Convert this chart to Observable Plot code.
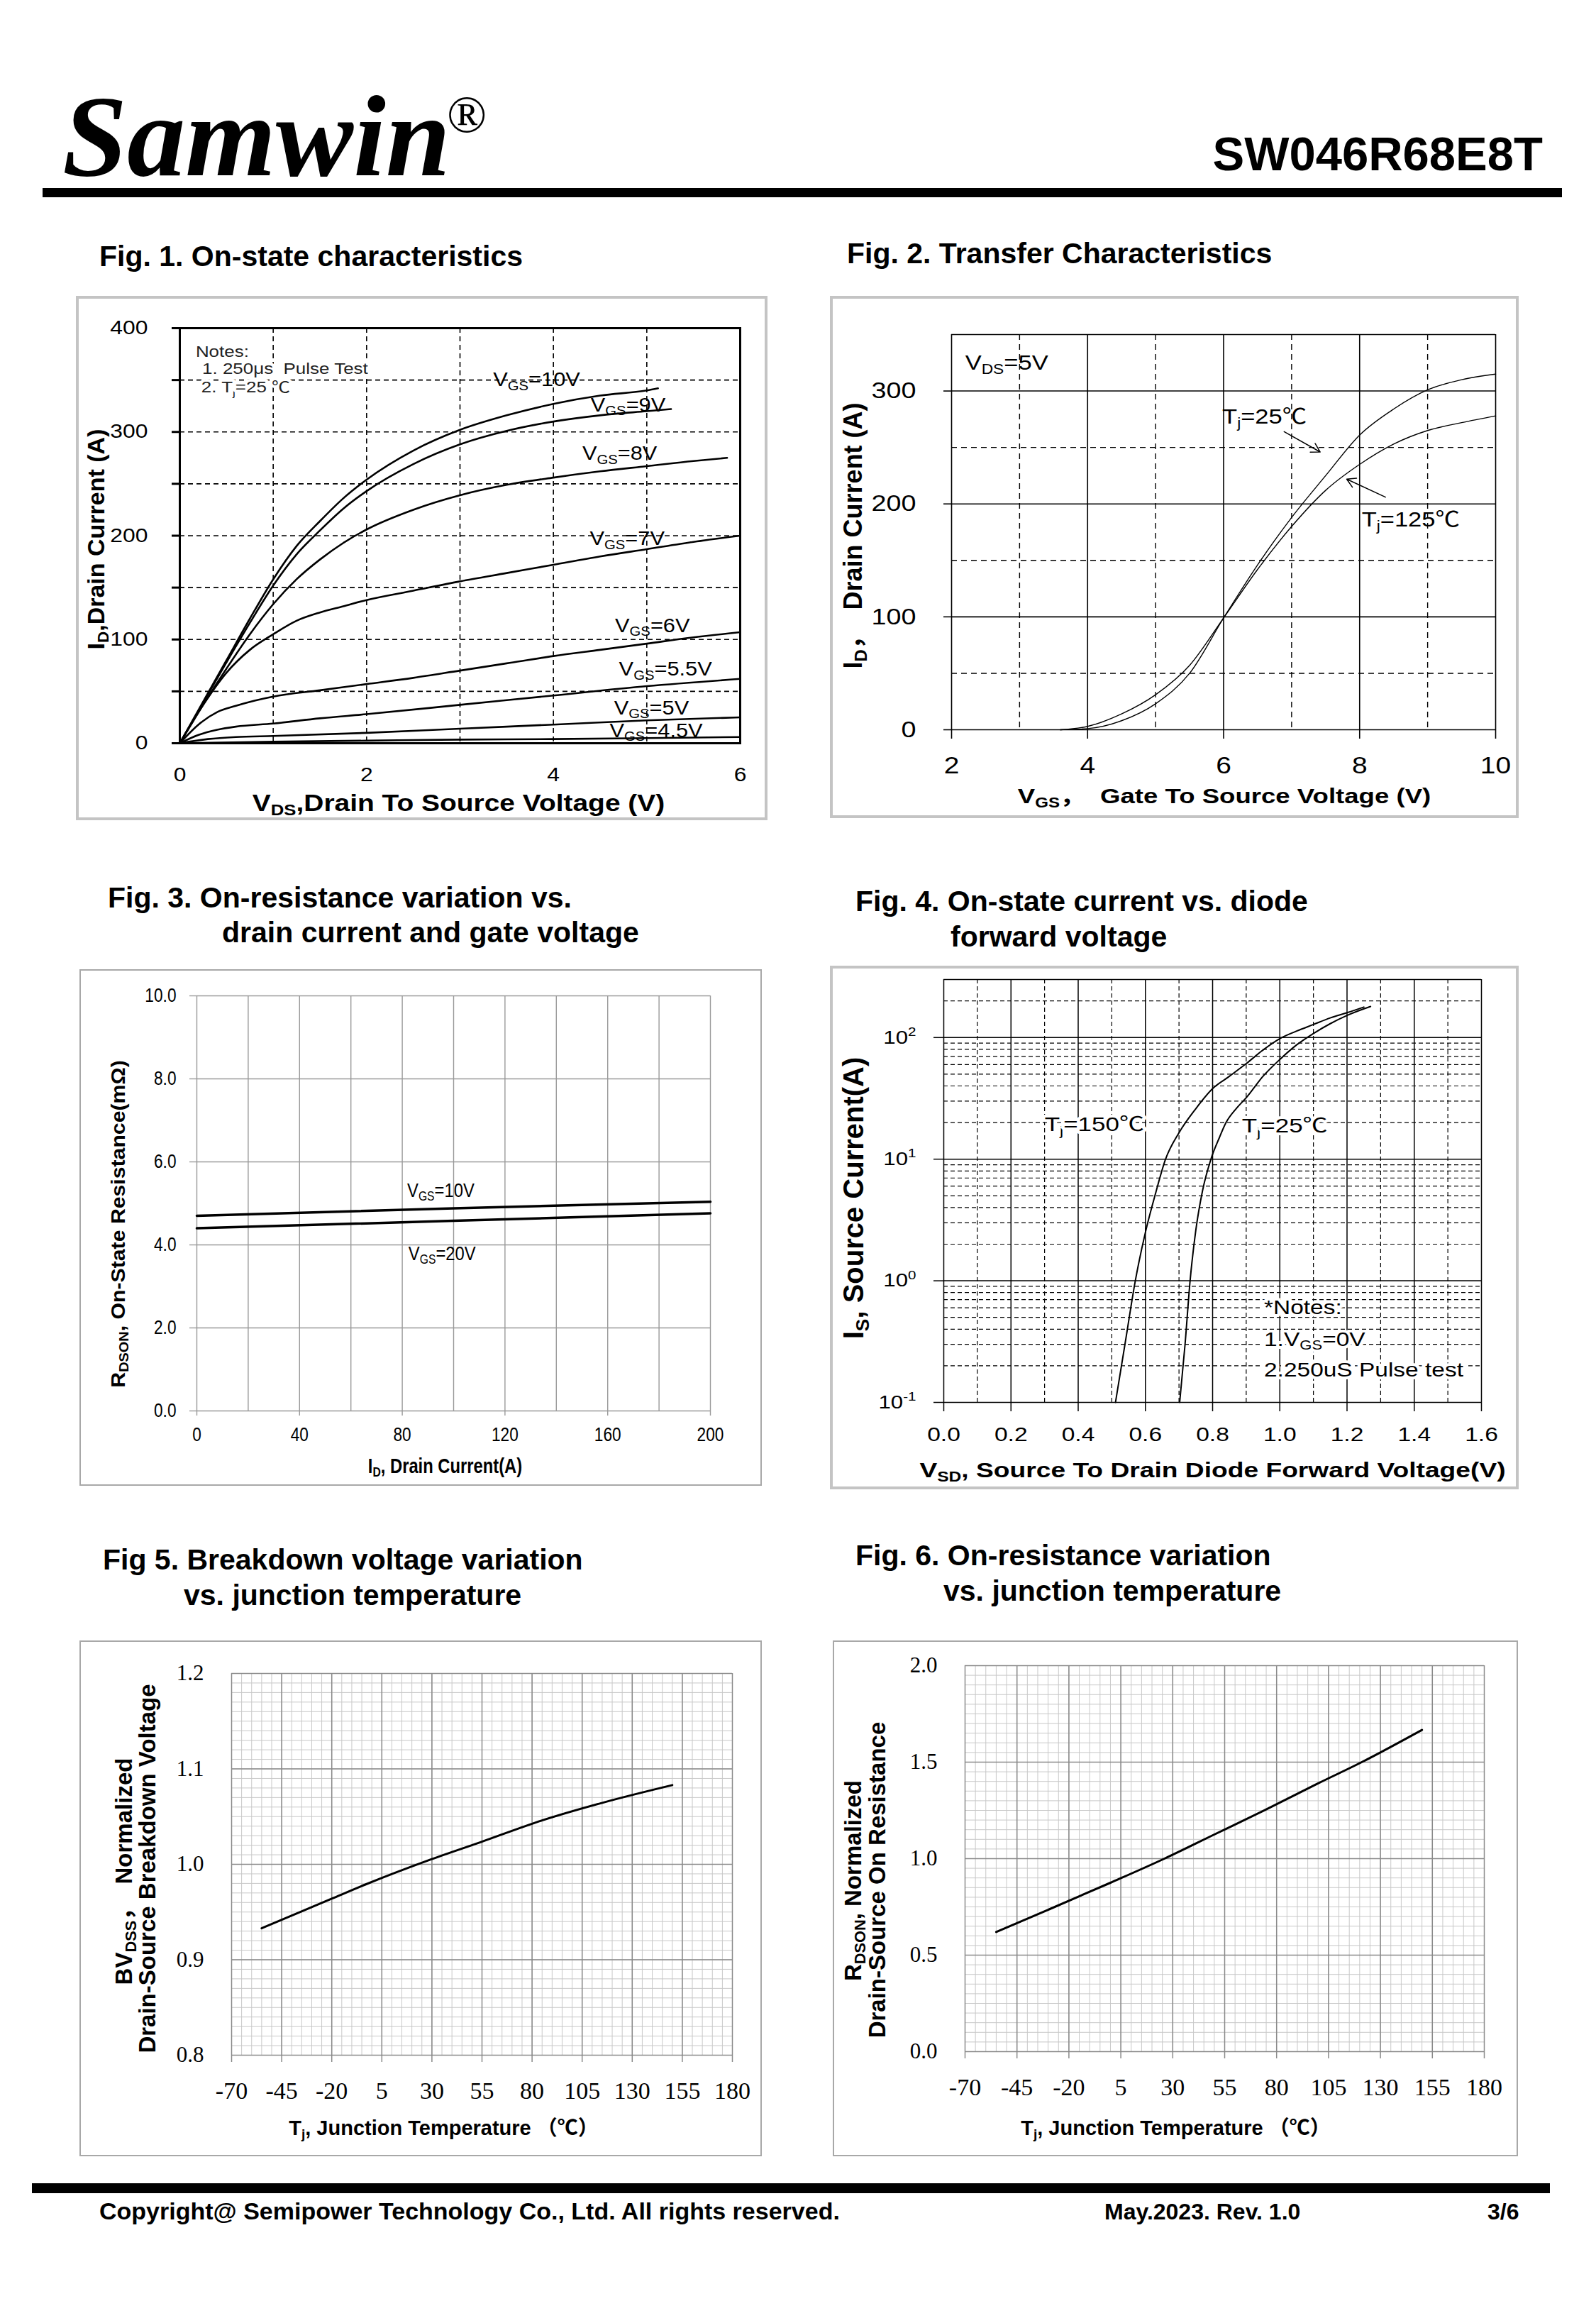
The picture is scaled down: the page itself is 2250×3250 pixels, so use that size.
<!DOCTYPE html>
<html><head><meta charset="utf-8">
<script src="https://cdn.jsdelivr.net/npm/d3@7"></script>
<script src="https://cdn.jsdelivr.net/npm/@observablehq/plot@0.6"></script>
<style>
html,body{margin:0;padding:0;background:#fff;}
#page{position:relative;width:2250px;height:3250px;background:#fff;overflow:hidden;}
</style></head><body><div id="page"></div>
<script>
// ================= DATA =================
// Page texts
const brandText = "Samwin";
const regMark = "®";
const partNumber = "SW046R68E8T";
const figTitles = [
  ["Fig. 1. On-state characteristics"],
  ["Fig. 2. Transfer Characteristics"],
  ["Fig. 3. On-resistance variation vs.", "drain current and gate voltage"],
  ["Fig. 4. On-state current vs. diode", "forward voltage"],
  ["Fig 5. Breakdown voltage variation", "vs. junction temperature"],
  ["Fig. 6. On-resistance variation", "vs. junction temperature"]
];
const footerTexts = ["Copyright@ Semipower Technology Co., Ltd. All rights reserved.", "May.2023. Rev. 1.0", "3/6"];

// Fig. 1 — I_D (A) vs V_DS (V), one series per V_GS
const fig1_10V  = [[0,0],[0.25,40],[0.5,80],[0.75,120],[1,158],[1.25,190],[1.5,214],[1.75,236],[2,254],[2.5,282],[3,302],[3.5,316],[4,327],[4.5,335],[5,340],[5.12,342]];
const fig1_9V   = [[0,0],[0.25,39],[0.5,78],[0.75,116],[1,152],[1.25,182],[1.5,205],[1.75,226],[2,243],[2.5,269],[3,288],[3.5,301],[4,310],[4.5,316],[5,320],[5.26,322]];
const fig1_8V   = [[0,0],[0.25,37],[0.5,72],[0.75,105],[1,134],[1.25,158],[1.5,177],[1.75,193],[2,206],[2.5,225],[3,239],[3.5,249],[4,256],[4.5,262],[5,267],[5.5,272],[5.86,275]];
const fig1_7V   = [[0,0],[0.25,37],[0.5,68],[0.75,90],[1,105],[1.25,118],[1.5,126],[1.75,132],[2,138],[2.5,147],[3,156],[3.5,164],[4,172],[4.5,180],[5,187],[5.5,194],[6,200]];
const fig1_6V   = [[0,0],[0.2,18],[0.4,30],[0.6,36],[0.8,41],[1,45],[1.5,51],[2,57],[2.5,63],[3,70],[3.5,77],[4,84],[4.5,90],[5,96],[5.5,102],[6,107]];
const fig1_5_5V = [[0,0],[0.2,8],[0.4,13],[0.6,16],[1,19],[1.5,24],[2,28],[3,37],[4,46],[5,55],[6,62]];
const fig1_5V   = [[0,0],[0.3,4],[0.6,6],[1,7],[2,10],[3,14],[4,18],[5,22],[6,25]];
const fig1_4_5V = [[0,0],[1,1.5],[2,2.5],[3,3.5],[4,4],[5,5],[6,6]];
const fig1Labels = [
  {t:"V_{GS}=10V", x:3.82, y:344}, {t:"V_{GS}=9V", x:4.8, y:320}, {t:"V_{GS}=8V", x:4.71, y:273},
  {t:"V_{GS}=7V", x:4.79, y:191}, {t:"V_{GS}=6V", x:5.06, y:107}, {t:"V_{GS}=5.5V", x:5.2, y:65},
  {t:"V_{GS}=5V", x:5.05, y:28}, {t:"V_{GS}=4.5V", x:5.1, y:6}
];
const fig1Notes = [{t:"Notes:", x:0.17, y:372}, {t:"1. 250μs  Pulse Test", x:0.24, y:356}, {t:"2. T_{j}=25 ℃", x:0.23, y:338}];
const fig1XTicks = [0, 2, 4, 6];
const fig1YTicks = [0, 50, 100, 150, 200, 250, 300, 350, 400];
const fig1GridX = [1, 2, 3, 4, 5];
const fig1GridY = [50, 100, 150, 200, 250, 300, 350];
const fig1XTitle = "V_{DS},Drain To Source Voltage (V)";
const fig1YTitle = "I_{D},Drain Current (A)";

// Fig. 2 — transfer characteristics, I_D (A) vs V_GS (V)
const fig2_25C  = [[3.6,0],[4,1],[4.5,8],[5,23],[5.5,50],[6,99],[6.5,146],[7,188],[7.5,225],[8,261],[8.5,284],[9,301],[9.5,310],[10,315]];
const fig2_125C = [[3.6,0],[4,3],[4.5,14],[5,31],[5.5,57],[6,99],[6.5,142],[7,180],[7.5,212],[8,235],[8.5,253],[9,265],[9.5,272],[10,278]];
const fig2Labels = [{t:"V_{DS}=5V", x:2.2, y:319}, {t:"T_{j}=25℃", x:5.98, y:271}, {t:"T_{j}=125℃", x:8.03, y:180}];
const fig2Arrows = [{x1:6.89, y1:264, x2:7.42, y2:246}, {x1:8.38, y1:206, x2:7.81, y2:222}];
const fig2XTicks = [2, 4, 6, 8, 10];
const fig2YTicks = [0, 100, 200, 300];
const fig2GridX = [2, 4, 6, 8, 10];
const fig2GridXDash = [3, 5, 7, 9];
const fig2GridY = [0, 100, 200, 300, 350];
const fig2GridYDash = [50, 150, 250];
const fig2XTitle = "V_{GS}，  Gate To Source Voltage (V)";
const fig2YTitle = "I_{D}，  Drain Current (A)";

// Fig. 3 — R_DSON (mΩ) vs I_D (A)
const fig3_10V = [[0,4.70],[50,4.79],[100,4.88],[150,4.96],[200,5.04]];
const fig3_20V = [[0,4.40],[50,4.49],[100,4.58],[150,4.67],[200,4.76]];
const fig3Labels = [{t:"V_{GS}=10V", x:95, y:5.16}, {t:"V_{GS}=20V", x:95.5, y:3.64}];
const fig3XTicks = [0, 40, 80, 120, 160, 200];
const fig3YTicks = [0, 2, 4, 6, 8, 10];
const fig3GridX = [0, 20, 40, 60, 80, 100, 120, 140, 160, 180, 200];
const fig3GridY = [0, 2, 4, 6, 8, 10];
const fig3XTitle = "I_{D}, Drain Current(A)";
const fig3YTitle = "R_{DSON}, On-State Resistance(mΩ)";

// Fig. 4 — I_S (A, log) vs V_SD (V)
const fig4_150C = [[0.511,0.1],[0.54,0.31],[0.57,1.0],[0.60,2.5],[0.63,5.2],[0.66,10],[0.70,16.5],[0.75,26],[0.80,38],[0.85,48],[0.90,61],[0.95,79],[1.0,98],[1.05,113],[1.10,128],[1.15,145],[1.20,160],[1.25,178]];
const fig4_25C  = [[0.702,0.1],[0.718,0.3],[0.733,1.0],[0.75,2.6],[0.77,5.5],[0.795,10],[0.82,15],[0.84,20],[0.87,26],[0.90,32],[0.95,48],[1.0,66],[1.05,87],[1.10,108],[1.15,130],[1.20,152],[1.27,180]];
const fig4Labels = [{t:"T_{j}=150℃", x:0.30, y:17}, {t:"T_{j}=25℃", x:0.887, y:16.6}];
const fig4Notes = [{t:"*Notes:", x:0.953, y:0.533}, {t:"1.V_{GS}=0V", x:0.953, y:0.292}, {t:"2.250uS Pulse test", x:0.953, y:0.164}];
const fig4XTicks = [0, 0.2, 0.4, 0.6, 0.8, 1.0, 1.2, 1.4, 1.6];
const fig4YTicks = [0.1, 1, 10, 100];
const fig4GridX = [0, 0.2, 0.4, 0.6, 0.8, 1.0, 1.2, 1.4, 1.6];
const fig4GridXDash = [0.1, 0.3, 0.5, 0.7, 0.9, 1.1, 1.3, 1.5];
const fig4GridY = [0.1, 1, 10, 100, 300];
const fig4GridYDash = [0.2,0.3,0.4,0.5,0.6,0.7,0.8,0.9, 2,3,4,5,6,7,8,9, 20,30,40,50,60,70,80,90, 200];
const fig4XTitle = "V_{SD}, Source To Drain Diode Forward Voltage(V)";
const fig4YTitle = "I_{S}, Source Current(A)";

// Fig. 5 — normalized BV_DSS vs T_j (°C)
const fig5Curve = [[-55,0.933],[-38,0.948],[-20,0.964],[-3,0.979],[28,1.004],[54,1.023],[85,1.046],[116,1.065],[150,1.083]];
const fig5XTicks = [-70, -45, -20, 5, 30, 55, 80, 105, 130, 155, 180];
const fig5YTicks = [0.8, 0.9, 1.0, 1.1, 1.2];
const fig5YTitle = ["BV_{DSS}，\u00a0\u00a0Normalized", "Drain-Source Breakdown Voltage"];

// Fig. 6 — normalized R_DSON vs T_j (°C)
const fig6Curve = [[-55,0.62],[-30,0.735],[0,0.875],[26,1.0],[50,1.125],[75,1.255],[100,1.39],[121,1.5],[150,1.667]];
const fig6XTicks = [-70, -45, -20, 5, 30, 55, 80, 105, 130, 155, 180];
const fig6YTicks = [0, 0.5, 1.0, 1.5, 2.0];
const fig6YTitle = ["R_{DSON}, Normalized", "Drain-Source On Resistance"];
const tempXTitle = "T_{j}, Junction Temperature （℃）";

// ================= HELPERS =================
const SANS = "'Liberation Sans', Arial, Helvetica, 'Noto Sans CJK SC', sans-serif";
const SERIF = "'Liberation Serif', 'Times New Roman', 'Noto Sans CJK SC', serif";
const NS = "http://www.w3.org/2000/svg";
const page = document.getElementById("page");
const baseStyle = (fs) => ({fontFamily: SANS, fontSize: fs + "px", color: "#000", background: "transparent", overflow: "visible"});
const rows = (series) => series.flatMap(([s, pts]) => pts.map(([x, y]) => ({s, x, y})));

function addBox(x, y, w, h, bw, color) {
  const d = document.createElement("div");
  Object.assign(d.style, {position: "absolute", left: x + "px", top: y + "px", width: w + "px", height: h + "px", boxSizing: "border-box", border: `${bw}px solid ${color}`});
  page.appendChild(d);
}
function rich(el) {
  const s = el.textContent;
  if (!/[_^]\{/.test(s)) return;
  const fs = parseFloat(getComputedStyle(el).fontSize) || 16;
  while (el.firstChild) el.removeChild(el.firstChild);
  const re = /([_^])\{([^}]*)\}/g;
  const parts = []; let last = 0, m;
  while ((m = re.exec(s))) {
    if (m.index > last) parts.push([s.slice(last, m.index), 0]);
    parts.push([m[2], m[1] === "_" ? 1 : -1]);
    last = re.lastIndex;
  }
  if (last < s.length) parts.push([s.slice(last), 0]);
  let cur = 0;
  for (const [t, mode] of parts) {
    const ts = document.createElementNS(NS, "tspan");
    const target = mode > 0 ? 0.2 * fs : mode < 0 ? -0.42 * fs : 0;
    if (target !== cur) ts.setAttribute("dy", (target - cur).toFixed(2));
    cur = target;
    if (mode) ts.setAttribute("font-size", (0.66 * fs).toFixed(2));
    ts.textContent = t;
    el.appendChild(ts);
  }
}
function stretch(t, k) {
  const tr = t.getAttribute("transform") || "";
  const x = parseFloat(t.getAttribute("x")) || 0;
  t.setAttribute("transform", `${tr} translate(${x},0) scale(${k},1) translate(${-x},0)`);
}
function finish(svg, cfg) {
  svg.querySelectorAll("text").forEach(t => {
    const spans = t.querySelectorAll("tspan");
    (spans.length ? [...spans] : [t]).forEach(rich);
  });
  if (cfg.xt) svg.querySelectorAll('g[aria-label="x-axis tick label"] text').forEach(t => stretch(t, cfg.xt));
  if (cfg.yt) svg.querySelectorAll('g[aria-label="y-axis tick label"] text').forEach(t => stretch(t, cfg.yt));
  svg.querySelectorAll("g[aria-description]").forEach(g => {
    const m = /^k=([\d.]+)$/.exec(g.getAttribute("aria-description"));
    if (m) g.querySelectorAll("text").forEach(t => stretch(t, +m[1]));
  });
}
function mount(svg, x, y, cfg = {}) {
  Object.assign(svg.style, {position: "absolute", left: x + "px", top: y + "px", maxWidth: "none"});
  page.appendChild(svg);
  finish(svg, cfg);
}
const ident = d => d;

// ================= PAGE FURNITURE =================
const over = document.createElementNS(NS, "svg");
over.setAttribute("width", 2250); over.setAttribute("height", 3250);
over.style.position = "absolute"; over.style.left = "0px"; over.style.top = "0px";
function otext(x, y, s, attrs) {
  const t = document.createElementNS(NS, "text");
  t.setAttribute("x", x); t.setAttribute("y", y);
  for (const [k, v] of Object.entries(attrs)) t.setAttribute(k, v);
  t.textContent = s; over.appendChild(t); return t;
}
function orect(x, y, w, h) {
  const r = document.createElementNS(NS, "rect");
  r.setAttribute("x", x); r.setAttribute("y", y); r.setAttribute("width", w); r.setAttribute("height", h); r.setAttribute("fill", "#000");
  over.appendChild(r);
}
otext(88, 247, brandText, {"font-family": SERIF, "font-style": "italic", "font-weight": "bold", "font-size": 164});
otext(630, 186, regMark, {"font-family": SERIF, "font-size": 74});
otext(2175, 240, partNumber, {"font-family": SANS, "font-weight": "bold", "font-size": 67, "text-anchor": "end"});
orect(60, 265, 2142, 13);
const titlePos = [[[140,375]], [[1194,371]], [[152,1279],[313,1328]], [[1206,1284],[1340,1334]], [[145,2212],[259,2262]], [[1206,2206],[1330,2256]]];
figTitles.forEach((lines, i) => lines.forEach((s, j) => otext(titlePos[i][j][0], titlePos[i][j][1], s, {"font-family": SANS, "font-weight": "bold", "font-size": 41})));
orect(45, 3077, 2140, 14);
otext(140, 3128, footerTexts[0], {"font-family": SANS, "font-weight": "bold", "font-size": 34});
otext(1557, 3128, footerTexts[1], {"font-family": SANS, "font-weight": "bold", "font-size": 32});
otext(2097, 3128, footerTexts[2], {"font-family": SANS, "font-weight": "bold", "font-size": 32});

// rotated / bottom axis title options
const yTitleOpts = (dx, dy, fs, extra = {}) => ({text: ident, frameAnchor: "left", textAnchor: "middle", rotate: -90, dx, dy, lineAnchor: "bottom", fontSize: fs, fontWeight: "bold", ...extra});
const xTitleOpts = (dx, dy, fs, extra = {}) => ({text: ident, frameAnchor: "bottom", textAnchor: "middle", dx, dy, lineAnchor: "bottom", fontSize: fs, fontWeight: "bold", ...extra});

// ================= FIG 1 =================
addBox(107, 417, 975, 739, 4, "#c4c4c4");
const dash1 = {stroke: "#000", strokeOpacity: 1, strokeWidth: 1.6, strokeDasharray: "7,5"};
const fig1 = Plot.plot({
  width: 975, height: 739, marginLeft: 146, marginRight: 39, marginTop: 45, marginBottom: 109,
  style: baseStyle(26),
  x: {domain: [0, 6], axis: null, label: null},
  y: {domain: [0, 400], axis: null, label: null},
  marks: [
    Plot.gridX(fig1GridX, dash1),
    Plot.gridY(fig1GridY, dash1),
    Plot.text(fig1Notes, {x: "x", y: "y", text: "t", textAnchor: "start", lineAnchor: "bottom", fontSize: 22, fill: "#222", stroke: "#fff", strokeWidth: 8, paintOrder: "stroke", ariaDescription: "k=1.18"}),
    Plot.line(rows([["10",fig1_10V],["9",fig1_9V],["8",fig1_8V],["7",fig1_7V],["6",fig1_6V],["5.5",fig1_5_5V],["5",fig1_5V],["4.5",fig1_4_5V]]), {x: "x", y: "y", z: "s", stroke: "#000", strokeWidth: 2.6, curve: "monotone-x"}),
    Plot.frame({stroke: "#000", strokeWidth: 3}),
    Plot.axisY(fig1YTicks, {tickSize: 11, tickPadding: 34, strokeWidth: 3, fontSize: 27, label: null, tickFormat: d => d % 100 ? "" : String(d)}),
    Plot.axisX(fig1XTicks, {tickSize: 0, tickPadding: 34, fontSize: 27, label: null, tickFormat: d => String(d)}),
    Plot.text(fig1Labels, {x: "x", y: "y", text: "t", textAnchor: "middle", lineAnchor: "bottom", fontSize: 27, ariaDescription: "k=1.14"}),
    Plot.text([fig1XTitle], xTitleOpts(-2, 95, 33, {ariaDescription: "k=1.18"})),
    Plot.text([fig1YTitle], yTitleOpts(-107, 5, 34))
  ]
});
mount(fig1, 107, 417, {xt: 1.18, yt: 1.18});

// ================= FIG 2 =================
addBox(1170, 417, 971, 736, 4, "#c4c4c4");
const solid2 = {stroke: "#000", strokeOpacity: 1, strokeWidth: 1.6};
const dash2 = {stroke: "#000", strokeOpacity: 1, strokeWidth: 1.4, strokeDasharray: "8,6"};
const fig2 = Plot.plot({
  width: 971, height: 736, marginLeft: 171, marginRight: 33, marginTop: 54, marginBottom: 125,
  style: baseStyle(32),
  x: {domain: [2, 10], axis: null, label: null},
  y: {domain: [0, 350], axis: null, label: null},
  marks: [
    Plot.gridX(fig2GridXDash, dash2),
    Plot.gridY(fig2GridYDash, dash2),
    Plot.gridX(fig2GridX, solid2),
    Plot.gridY(fig2GridY, solid2),
    Plot.axisY(fig2YTicks, {tickSize: 11, tickPadding: 39, strokeWidth: 1.6, fontSize: 32, label: null, tickFormat: d => String(d)}),
    Plot.axisX(fig2XTicks, {tickSize: 13, tickPadding: 25, strokeWidth: 1.6, fontSize: 33, label: null, tickFormat: d => String(d)}),
    Plot.line(rows([["25", fig2_25C], ["125", fig2_125C]]), {x: "x", y: "y", z: "s", stroke: "#000", strokeWidth: 1.4, curve: "monotone-x"}),
    Plot.arrow(fig2Arrows, {x1: "x1", y1: "y1", x2: "x2", y2: "y2", stroke: "#000", strokeWidth: 1.5, headLength: 14}),
    Plot.text(fig2Labels, {x: "x", y: "y", text: "t", textAnchor: "start", lineAnchor: "bottom", fontSize: 30, ariaDescription: "k=1.15"}),
    Plot.text([fig2XTitle], xTitleOpts(1, 103, 30, {ariaDescription: "k=1.22"})),
    Plot.text([fig2YTitle], yTitleOpts(-127, 5, 36))
  ]
});
mount(fig2, 1170, 417, {xt: 1.18, yt: 1.18});

// ================= FIG 3 =================
addBox(112, 1366, 962, 728, 2, "#a8a8a8");
const grid3 = {stroke: "#9a9a9a", strokeOpacity: 1, strokeWidth: 1.4};
const fig3 = Plot.plot({
  width: 962, height: 728, marginLeft: 165, marginRight: 73, marginTop: 37, marginBottom: 106,
  style: baseStyle(26),
  x: {domain: [0, 200], axis: null, label: null},
  y: {domain: [0, 10], axis: null, label: null},
  marks: [
    Plot.gridX(fig3GridX, grid3),
    Plot.gridY(fig3GridY, grid3),
    Plot.axisY(fig3YTicks, {tickSize: 10, tickPadding: 19, stroke: "#9a9a9a", strokeWidth: 1.4, fontSize: 27, label: null, tickFormat: d => d.toFixed(1)}),
    Plot.axisX(fig3XTicks, {tickSize: 7, tickPadding: 16, stroke: "#9a9a9a", strokeWidth: 1.4, fontSize: 27, label: null, tickFormat: d => String(d)}),
    Plot.line(rows([["10", fig3_10V], ["20", fig3_20V]]), {x: "x", y: "y", z: "s", stroke: "#000", strokeWidth: 3.5}),
    Plot.text(fig3Labels, {x: "x", y: "y", text: "t", textAnchor: "middle", lineAnchor: "bottom", fontSize: 28, ariaDescription: "k=0.85"}),
    Plot.text([fig3XTitle], xTitleOpts(-12, 87, 29, {ariaDescription: "k=0.82"})),
    Plot.text([fig3YTitle], yTitleOpts(-102, 29, 28, {ariaDescription: "k=1.08"}))
  ]
});
mount(fig3, 112, 1366, {xt: 0.84, yt: 0.84});

// ================= FIG 4 =================
addBox(1170, 1361, 971, 738, 4, "#c4c4c4");
const solid4 = {stroke: "#000", strokeOpacity: 1, strokeWidth: 1.5};
const dash4 = {stroke: "#000", strokeOpacity: 1, strokeWidth: 1.2, strokeDasharray: "6,4"};
const fig4 = Plot.plot({
  width: 971, height: 738, marginLeft: 160, marginRight: 53, marginTop: 19, marginBottom: 123,
  style: baseStyle(28),
  x: {domain: [0, 1.6], axis: null, label: null},
  y: {type: "log", domain: [0.1, 300], axis: null, label: null},
  marks: [
    Plot.gridX(fig4GridXDash, dash4),
    Plot.gridY(fig4GridYDash, dash4),
    Plot.gridX(fig4GridX, solid4),
    Plot.gridY(fig4GridY, solid4),
    Plot.axisY(fig4YTicks, {tickSize: 14, tickPadding: 25, strokeWidth: 1.5, fontSize: 26, label: null, tickFormat: d => `10^{${Math.round(Math.log10(d))}}`}),
    Plot.axisX(fig4XTicks, {tickSize: 13, tickPadding: 22, strokeWidth: 1.5, fontSize: 28, label: null, tickFormat: d => d.toFixed(1)}),
    Plot.text(fig4Labels, {x: "x", y: "y", text: "t", textAnchor: "start", lineAnchor: "bottom", fontSize: 28, stroke: "#fff", strokeWidth: 8, paintOrder: "stroke", fill: "#000", ariaDescription: "k=1.25"}),
    Plot.text(fig4Notes, {x: "x", y: "y", text: "t", textAnchor: "start", lineAnchor: "bottom", fontSize: 27, stroke: "#fff", strokeWidth: 8, paintOrder: "stroke", fill: "#000", ariaDescription: "k=1.24"}),
    Plot.line(rows([["150", fig4_150C], ["25", fig4_25C]]), {x: "x", y: "y", z: "s", stroke: "#000", strokeWidth: 2, curve: "monotone-x"}),
    Plot.text([fig4XTitle], xTitleOpts(0, 105, 30, {ariaDescription: "k=1.24"})),
    Plot.text([fig4YTitle], yTitleOpts(-114, 10, 40))
  ]
});
mount(fig4, 1170, 1361, {xt: 1.2, yt: 1.2});

// ================= FIG 5 & 6 =================
const minor = {stroke: "#c8c8c8", strokeOpacity: 1, strokeWidth: 1};
const major = {stroke: "#8a8a8a", strokeOpacity: 1, strokeWidth: 1.5};
function tempChart({w, h, mL, mR, mT, mB, yDomain, yMinor, yTicks, curve, yTitle, xTitleDx, xTitleDy, yTitleDx, yTitleDy}) {
  const xMinor = d3.range(-70, 181, 5);
  return Plot.plot({
    width: w, height: h, marginLeft: mL, marginRight: mR, marginTop: mT, marginBottom: mB,
    style: baseStyle(30),
    x: {domain: [-70, 180], axis: null, label: null},
    y: {domain: yDomain, axis: null, label: null},
    marks: [
      Plot.gridX(xMinor, minor),
      Plot.gridY(yMinor, minor),
      Plot.gridX(fig5XTicks, major),
      Plot.gridY(yTicks, major),
      Plot.axisX(fig5XTicks, {tickSize: 10, tickPadding: 27, stroke: "#8a8a8a", strokeWidth: 1.5, fontSize: 34, fontFamily: SERIF, label: null, tickFormat: d => String(d)}),
      Plot.axisY(yTicks, {tickSize: 0, tickPadding: 39, fontSize: 31, fontFamily: SERIF, label: null, tickFormat: d => d.toFixed(1)}),
      Plot.line(curve.map(([x, y]) => ({x, y})), {x: "x", y: "y", stroke: "#000", strokeWidth: 3, curve: "monotone-x"}),
      Plot.text([tempXTitle], xTitleOpts(xTitleDx, xTitleDy, 29)),
      Plot.text([yTitle[0]], yTitleOpts(yTitleDx[0], yTitleDy[0], 33)),
      Plot.text([yTitle[1]], yTitleOpts(yTitleDx[1], yTitleDy[1], 33))
    ]
  });
}
addBox(112, 2312, 962, 727, 2, "#a8a8a8");
const fig5 = tempChart({w: 962, h: 727, mL: 214, mR: 42, mT: 46, mB: 143, yDomain: [0.8, 1.2],
  yMinor: d3.range(80, 121).map(v => v / 100), yTicks: fig5YTicks, curve: fig5Curve, yTitle: fig5YTitle,
  xTitleDx: -54, xTitleDy: 112, yTitleDx: [-141, -108], yTitleDy: [10, 6]});
mount(fig5, 112, 2312, {xt: 1, yt: 1});

addBox(1174, 2312, 966, 727, 2, "#a8a8a8");
const fig6 = tempChart({w: 966, h: 727, mL: 186, mR: 48, mT: 35, mB: 148, yDomain: [0, 2],
  yMinor: d3.range(0, 41).map(v => v * 0.05), yTicks: fig6YTicks, curve: fig6Curve, yTitle: fig6YTitle,
  xTitleDx: -69, xTitleDy: 117, yTitleDx: [-147, -113], yTitleDy: [31, 30]});
mount(fig6, 1174, 2312, {xt: 1, yt: 1});

page.appendChild(over);
</script></body></html>
